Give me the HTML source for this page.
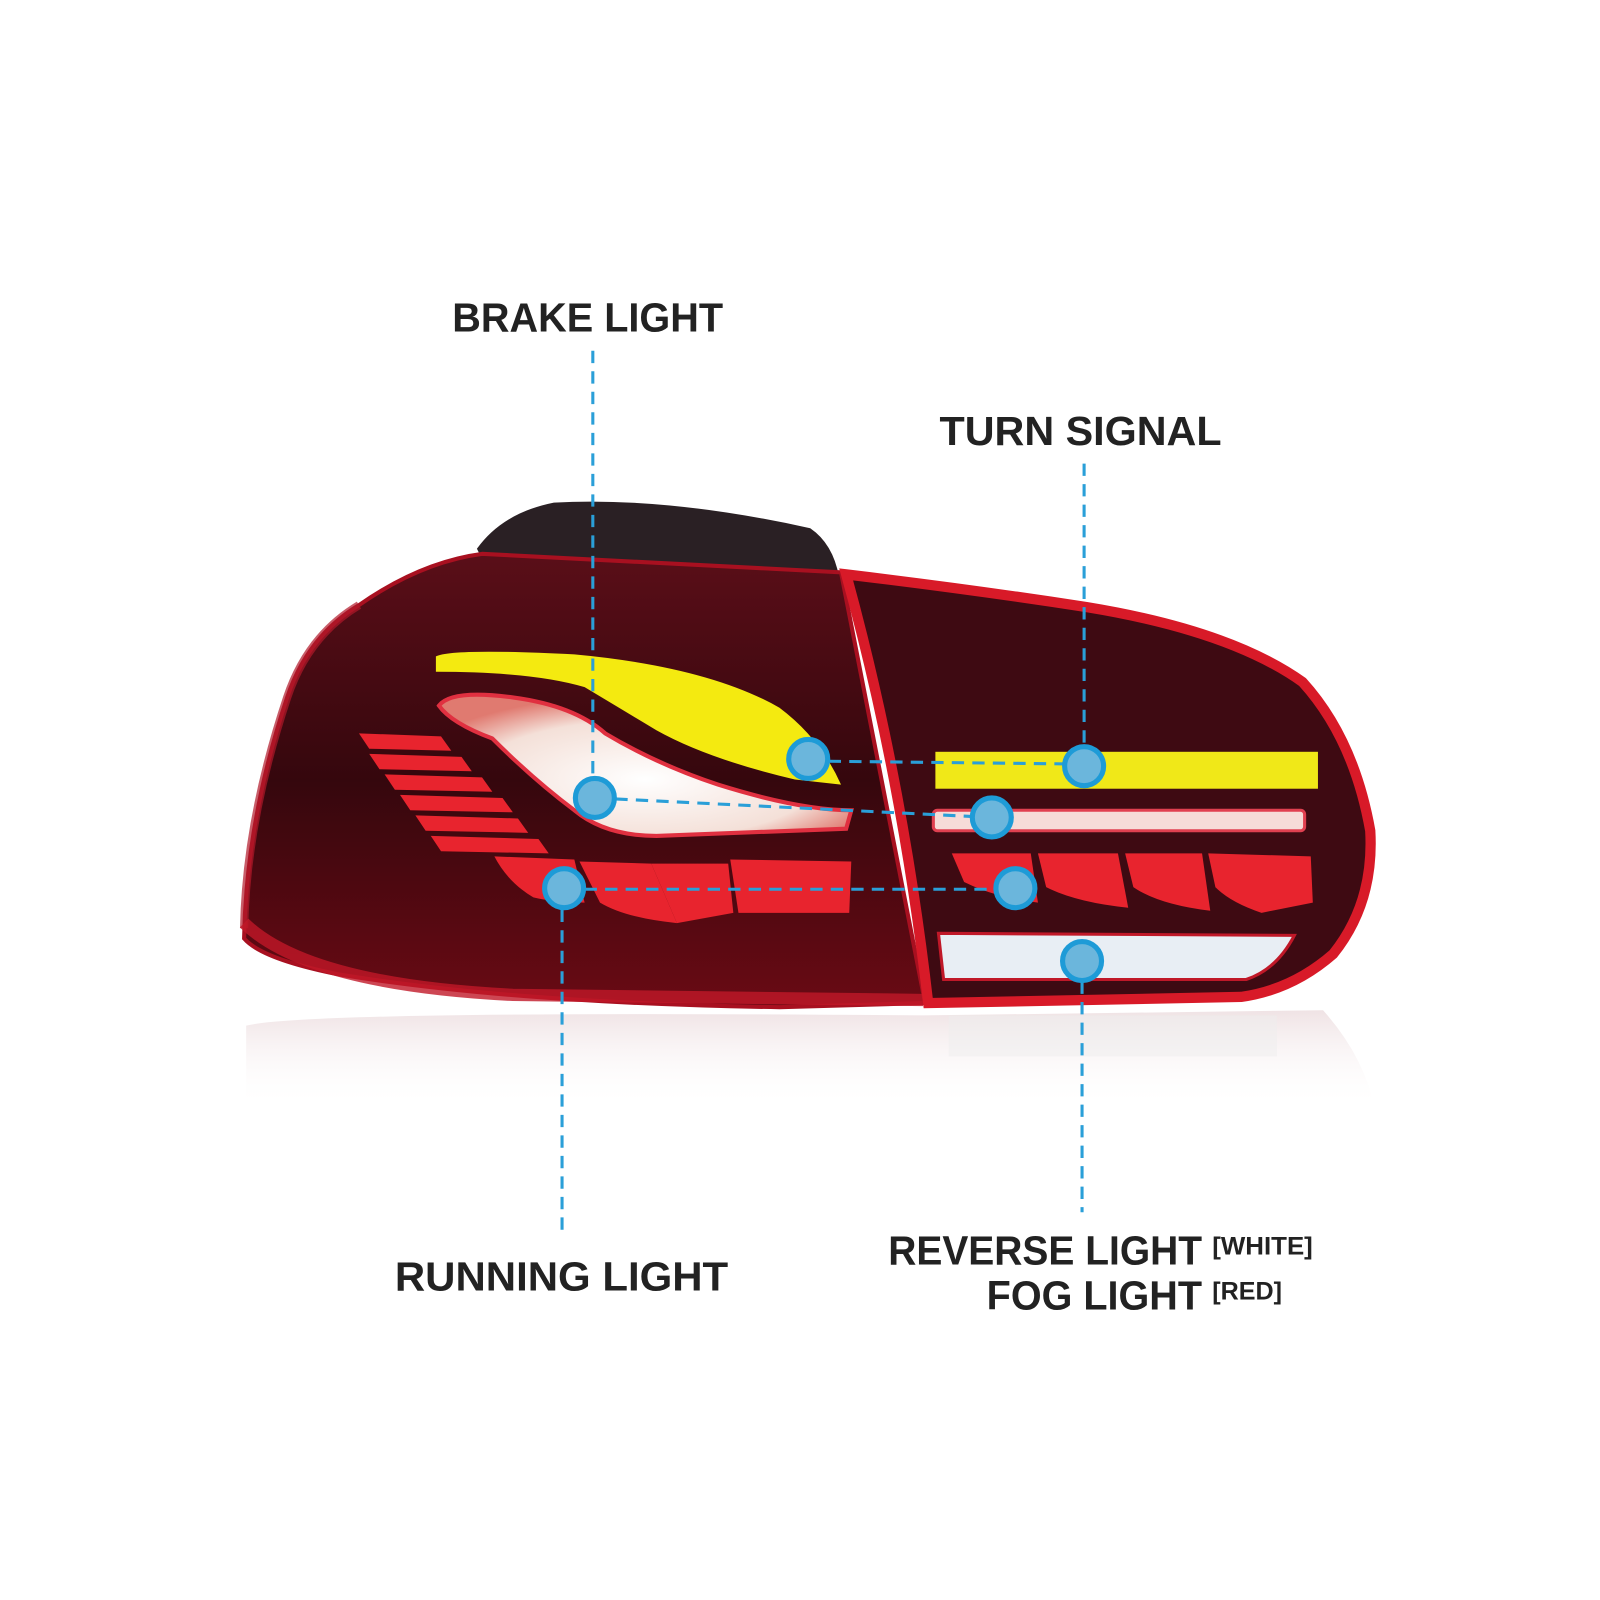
<!DOCTYPE html>
<html><head><meta charset="utf-8"><style>html,body{margin:0;padding:0;background:#fff;}svg{display:block}</style></head>
<body>
<svg width="1600" height="1600" viewBox="0 0 1560 1560" xmlns="http://www.w3.org/2000/svg">
<defs>
<linearGradient id="lb" x1="0" y1="0" x2="0" y2="1">
<stop offset="0" stop-color="#5a0e18"/><stop offset="0.5" stop-color="#35070d"/><stop offset="1" stop-color="#6a0a14"/></linearGradient>
<linearGradient id="rf" x1="0" y1="0" x2="0" y2="1">
<stop offset="0" stop-color="#d8b8bc" stop-opacity="0.4"/><stop offset="1" stop-color="#fff" stop-opacity="0"/></linearGradient>
<radialGradient id="wh" cx="0.5" cy="0.6" r="0.6"><stop offset="0" stop-color="#fff"/><stop offset="0.7" stop-color="#f4e0d8"/><stop offset="1" stop-color="#e07a70"/></radialGradient>
</defs>
<rect width="1560" height="1560" fill="#fff"/>
<path d="M240 1000 Q300 985 900 990 L1290 985 Q1330 1030 1340 1080 L240 1080 Z" fill="url(#rf)"/>
<rect x="925" y="990" width="320" height="40" fill="#eee" opacity="0.5"/>
<path d="M465 535 Q490 500 540 490 Q650 484 790 515 Q812 530 818 562 L470 545 Z" fill="#2a2024"/>
<path d="M238 915 Q240 800 280 680 Q300 620 350 590 Q410 548 470 540 L820 558 Q860 760 902 978 L760 982 Q500 978 330 950 Q255 935 238 915 Z" fill="url(#lb)" stroke="#a81020" stroke-width="4"/>
<path d="M350 590 Q300 620 280 680 Q240 800 238 905" fill="none" stroke="#b0182a" stroke-width="8" opacity="0.7"/>
<path d="M238 900 Q300 960 500 970 L900 975" fill="none" stroke="#c01828" stroke-width="12" opacity="0.8"/>
<path d="M825 560 Q950 575 1060 592 Q1200 615 1270 665 Q1320 720 1336 810 Q1340 880 1300 930 Q1260 965 1210 972 L905 978 Q880 760 825 560 Z" fill="#3e0a12" stroke="#d81a28" stroke-width="10"/>
<path d="M425 640 Q440 632 560 638 Q690 650 760 690 Q800 720 820 765 L775 760 Q690 740 640 712 Q600 688 570 670 Q520 655 425 655 Z" fill="#f4ea10"/>
<path d="M428 688 Q440 672 500 680 Q560 688 590 715 Q640 745 700 765 Q780 790 830 790 L825 808 Q720 812 640 815 Q590 815 560 790 Q520 760 480 720 Q440 705 428 688 Z" fill="url(#wh)" stroke="#e03040" stroke-width="4"/>
<g fill="#e8242e">
<path d="M350 715 L430 718 L440 732 L360 730 Z"/>
<path d="M360 735 L450 738 L460 752 L370 750 Z"/>
<path d="M375 755 L470 758 L480 772 L385 770 Z"/>
<path d="M390 775 L490 778 L500 792 L400 790 Z"/>
<path d="M405 795 L505 798 L515 812 L415 810 Z"/>
<path d="M420 815 L525 818 L535 832 L430 830 Z"/>
<path d="M482 835 L560 838 L570 880 Q540 880 520 875 Q495 860 482 835 Z"/>
<path d="M565 840 L635 842 L660 900 Q610 895 585 880 Z"/>
<path d="M635 842 L710 842 L715 890 L660 900 Z"/>
<path d="M712 838 L830 840 L828 890 L720 890 Z"/>
</g>
<rect x="912" y="733" width="373" height="36" fill="#f0e818"/>
<rect x="910" y="790" width="362" height="20" rx="4" fill="#f6dcd8" stroke="#e04050" stroke-width="3"/>
<g fill="#e8242e">
<path d="M928 832 L1005 832 L1012 880 Q970 875 940 860 Z"/>
<path d="M1012 832 L1090 832 L1100 885 Q1050 880 1020 865 Z"/>
<path d="M1097 832 L1172 832 L1180 888 Q1130 882 1105 865 Z"/>
<path d="M1178 832 L1278 835 L1280 880 L1230 890 Q1200 880 1185 865 Z"/>
</g>
<path d="M915 910 L1262 912 Q1245 945 1215 955 L920 955 Z" fill="#e8eef4" stroke="#c01828" stroke-width="3"/>
<g stroke="#2a9fd8" stroke-width="3" stroke-dasharray="12 8" fill="none">
<line x1="578" y1="342" x2="578" y2="775"/>
<line x1="580" y1="778" x2="967" y2="797"/>
<line x1="1057" y1="452" x2="1057" y2="745"/>
<line x1="788" y1="742" x2="1057" y2="745"/>
<line x1="550" y1="867" x2="990" y2="867"/>
<line x1="548" y1="867" x2="548" y2="1205"/>
<line x1="1055" y1="937" x2="1055" y2="1182"/>
</g>
<g fill="#6bb6dc" stroke="#1e9bd7" stroke-width="5">
<circle cx="580" cy="778" r="19"/><circle cx="967" cy="797" r="19"/>
<circle cx="1057" cy="747" r="19"/><circle cx="788" cy="740" r="19"/>
<circle cx="550" cy="866" r="19"/><circle cx="990" cy="866" r="19"/>
<circle cx="1055" cy="937" r="19"/>
</g>
<g font-family="'Liberation Sans', sans-serif" font-weight="bold" fill="#222">
<text x="441" y="323" font-size="40" textLength="264" lengthAdjust="spacingAndGlyphs">BRAKE LIGHT</text>
<text x="916" y="434" font-size="40" textLength="275" lengthAdjust="spacingAndGlyphs">TURN SIGNAL</text>
<text x="385" y="1258" font-size="40" textLength="325" lengthAdjust="spacingAndGlyphs">RUNNING LIGHT</text>
<text x="866" y="1233" font-size="40" textLength="306" lengthAdjust="spacingAndGlyphs">REVERSE LIGHT</text>
<text x="962" y="1277" font-size="40" textLength="210" lengthAdjust="spacingAndGlyphs">FOG LIGHT</text>
<text x="1182" y="1223" font-size="24" textLength="98" lengthAdjust="spacingAndGlyphs">[WHITE]</text>
<text x="1182" y="1267" font-size="24" textLength="68" lengthAdjust="spacingAndGlyphs">[RED]</text>
</g>
</svg>
</body></html>
